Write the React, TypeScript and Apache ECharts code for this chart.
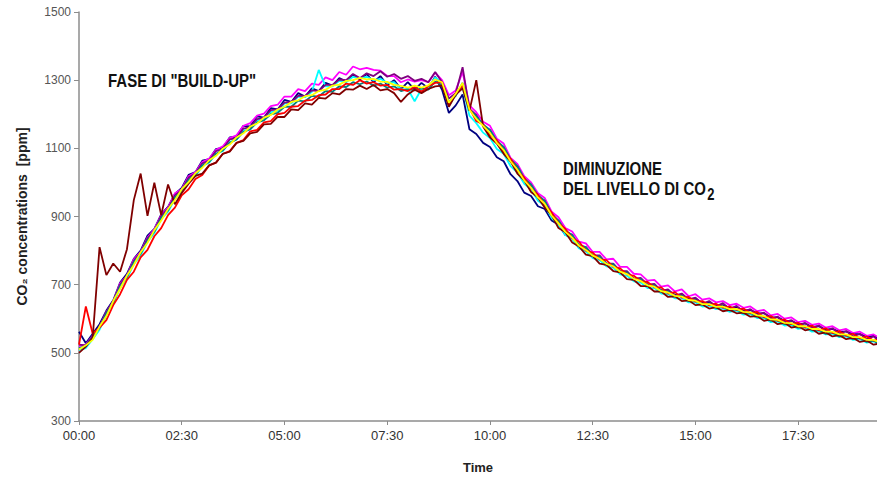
import React, { useEffect, useRef } from "react";
import * as echarts from "echarts";

// Sampling step of all series (minutes from 00:00)
const STEP_MIN = 10;
const X_MAX_MIN = 1165;
const X_TICK_MIN = 150;
const Y_MIN = 300;
const Y_MAX = 1500;
const Y_STEP = 200;

const X_AXIS_NAME = "Time";
const Y_AXIS_NAME = "CO\u2082 concentrations  [ppm]";
const NOTE_BUILDUP = 'FASE DI "BUILD-UP"';
const NOTE_DECAY_1 = "DIMINUZIONE";
const NOTE_DECAY_2 = "DEL LIVELLO DI CO";

// CO2 readings (ppm) every 10 minutes, one array per sensor
const navy = [
  562, 528, 556, 584, 624, 654, 706, 732, 776, 800,
  844, 864, 906, 928, 966, 984, 1022, 1030, 1064, 1068,
  1098, 1102, 1132, 1134, 1166, 1164, 1194, 1190, 1218, 1214,
  1242, 1236, 1262, 1252, 1276, 1268, 1292, 1284, 1306, 1296,
  1316, 1302, 1318, 1294, 1312, 1286, 1300, 1274, 1294, 1272,
  1292, 1276, 1310, 1272, 1204, 1226, 1258, 1156, 1142, 1116,
  1104, 1074, 1062, 1024, 1004, 970, 960, 930, 922, 888,
  876, 846, 838, 808, 804, 784, 776, 760, 756, 738,
  736, 716, 716, 700, 698, 684, 682, 670, 670, 658,
  659, 646, 648, 638, 640, 632, 634, 624, 626, 616,
  616, 604, 604, 594, 594, 584, 586, 576, 578, 568,
  570, 562, 562, 556, 554, 548, 550, 540,
];
const magenta = [
  520, 524, 550, 576, 620, 650, 704, 726, 774, 796,
  838, 862, 904, 926, 968, 980, 1018, 1030, 1060, 1070,
  1096, 1106, 1130, 1138, 1166, 1174, 1196, 1202, 1224, 1228,
  1252, 1252, 1274, 1268, 1290, 1286, 1308, 1300, 1324, 1316,
  1340, 1332, 1336, 1330, 1328, 1312, 1312, 1294, 1302, 1296,
  1300, 1294, 1322, 1300, 1256, 1270, 1324, 1226, 1206, 1178,
  1166, 1128, 1114, 1072, 1054, 1018, 1000, 968, 954, 914,
  898, 866, 856, 826, 821, 796, 796, 774, 776, 752,
  752, 732, 730, 712, 714, 694, 698, 680, 686, 666,
  672, 656, 660, 648, 652, 640, 644, 632, 636, 622,
  626, 610, 614, 600, 604, 590, 594, 582, 586, 574,
  578, 566, 570, 558, 562, 550, 554, 542,
];
const cyan = [
  508, 514, 540, 568, 610, 644, 690, 718, 760, 786,
  826, 851, 892, 914, 952, 972, 1006, 1018, 1048, 1058,
  1084, 1092, 1118, 1126, 1152, 1156, 1182, 1186, 1206, 1210,
  1232, 1232, 1252, 1250, 1266, 1330, 1282, 1282, 1298, 1294,
  1310, 1306, 1310, 1300, 1304, 1292, 1294, 1274, 1274, 1238,
  1274, 1278, 1308, 1292, 1224, 1259, 1280, 1196, 1174, 1146,
  1130, 1098, 1084, 1048, 1029, 996, 979, 946, 932, 896,
  876, 846, 834, 806, 798, 778, 772, 754, 750, 730,
  726, 710, 706, 690, 690, 674, 672, 660, 660, 648,
  648, 636, 638, 628, 630, 620, 624, 612, 614, 602,
  602, 590, 592, 580, 582, 570, 574, 562, 564, 554,
  556, 546, 548, 538, 540, 530, 534, 524,
];
const purple = [
  524, 522, 550, 576, 620, 650, 700, 726, 770, 794,
  836, 858, 902, 922, 962, 978, 1014, 1026, 1056, 1064,
  1092, 1098, 1126, 1130, 1158, 1162, 1186, 1190, 1212, 1214,
  1234, 1236, 1254, 1254, 1270, 1268, 1286, 1286, 1302, 1300,
  1318, 1306, 1320, 1312, 1326, 1310, 1318, 1304, 1312, 1298,
  1304, 1294, 1324, 1294, 1246, 1262, 1338, 1216, 1198, 1166,
  1154, 1116, 1102, 1062, 1046, 1006, 992, 956, 946, 904,
  888, 856, 846, 814, 810, 786, 786, 762, 762, 740,
  740, 718, 720, 700, 702, 682, 686, 668, 674, 656,
  662, 644, 652, 636, 646, 628, 638, 620, 628, 612,
  618, 600, 606, 590, 596, 580, 588, 572, 580, 564,
  572, 556, 564, 548, 556, 540, 548, 532,
];
const teal = [
  514, 520, 546, 574, 616, 646, 696, 722, 766, 791,
  830, 856, 896, 918, 956, 974, 1008, 1022, 1050, 1060,
  1084, 1094, 1116, 1126, 1148, 1156, 1176, 1182, 1200, 1204,
  1222, 1222, 1240, 1238, 1254, 1252, 1268, 1266, 1282, 1280,
  1294, 1288, 1296, 1284, 1290, 1278, 1282, 1268, 1274, 1270,
  1276, 1272, 1296, 1286, 1236, 1254, 1292, 1214, 1194, 1170,
  1154, 1122, 1104, 1068, 1048, 1012, 994, 962, 946, 908,
  888, 858, 846, 816, 810, 786, 782, 762, 760, 738,
  736, 716, 716, 698, 698, 682, 680, 666, 668, 652,
  654, 642, 644, 632, 636, 624, 628, 616, 618, 606,
  606, 594, 596, 584, 586, 574, 578, 566, 568, 556,
  560, 548, 552, 540, 544, 532, 536, 524,
];
const red = [
  524, 636, 556, 574, 596, 640, 672, 714, 738, 780,
  802, 842, 866, 904, 926, 962, 980, 1010, 1022, 1050,
  1058, 1084, 1092, 1116, 1124, 1150, 1154, 1176, 1180, 1200,
  1204, 1222, 1224, 1240, 1242, 1256, 1258, 1274, 1274, 1290,
  1286, 1300, 1290, 1294, 1284, 1286, 1272, 1274, 1268, 1280,
  1266, 1282, 1292, 1294, 1226, 1262, 1284, 1218, 1180, 1170,
  1138, 1124, 1090, 1070, 1034, 1014, 982, 964, 934, 912,
  880, 864, 836, 826, 800, 794, 774, 772, 752, 748,
  730, 726, 710, 708, 692, 692, 674, 678, 662, 664,
  650, 652, 640, 644, 632, 636, 626, 630, 616, 620,
  604, 608, 594, 598, 584, 588, 574, 580, 566, 572,
  558, 564, 550, 556, 542, 548, 536, 540,
];
const maroon = [
  500, 518, 545, 810, 728, 762, 738, 804, 948, 1026,
  902, 999, 904, 994, 936, 969, 996, 1019, 1026, 1050,
  1058, 1084, 1090, 1116, 1122, 1144, 1148, 1170, 1172, 1192,
  1192, 1214, 1212, 1232, 1228, 1248, 1246, 1262, 1258, 1274,
  1272, 1284, 1274, 1286, 1270, 1274, 1262, 1236, 1258, 1272,
  1262, 1274, 1282, 1284, 1222, 1258, 1276, 1210, 1300, 1164,
  1132, 1114, 1084, 1062, 1026, 1006, 972, 956, 926, 904,
  866, 854, 824, 812, 788, 784, 762, 758, 740, 736,
  716, 714, 696, 696, 680, 680, 664, 666, 652, 654,
  640, 642, 630, 634, 622, 626, 616, 618, 606, 608,
  594, 598, 584, 588, 574, 578, 566, 570, 556, 560,
  548, 552, 540, 544, 532, 536, 524, 528,
];
const yellow = [
  510, 522, 538, 577, 608, 652, 688, 727, 758, 795,
  823, 860, 888, 922, 948, 980, 1001, 1027, 1043, 1065,
  1078, 1099, 1111, 1132, 1144, 1164, 1173, 1190, 1198, 1214,
  1222, 1236, 1241, 1253, 1256, 1268, 1272, 1284, 1287, 1298,
  1300, 1307, 1302, 1304, 1296, 1295, 1286, 1283, 1278, 1284,
  1278, 1285, 1302, 1294, 1234, 1260, 1292, 1213, 1187, 1166,
  1145, 1116, 1095, 1062, 1037, 1006, 984, 956, 937, 903,
  880, 855, 838, 814, 802, 785, 776, 761, 754, 738,
  731, 717, 711, 698, 694, 681, 677, 667, 665, 655,
  653, 643, 643, 635, 636, 628, 629, 620, 619, 610,
  608, 598, 597, 588, 587, 578, 578, 570, 570, 562,
  562, 554, 554, 546, 546, 538, 538, 530,
];

const SERIES_LIST = [
  { name: "Sensor 1", color: "#000080", values: navy },
  { name: "Sensor 2", color: "#FF00FF", values: magenta },
  { name: "Sensor 3", color: "#00FFFF", values: cyan },
  { name: "Sensor 4", color: "#800080", values: purple },
  { name: "Sensor 5", color: "#008080", values: teal },
  { name: "Sensor 6", color: "#FF0000", values: red },
  { name: "Sensor 7", color: "#800000", values: maroon },
  { name: "Sensor 8", color: "#FFFF00", values: yellow },
];

function fmtTime(v: number): string {
  const h = Math.floor(v / 60);
  const m = Math.round(v % 60);
  return String(h).padStart(2, "0") + ":" + String(m).padStart(2, "0");
}

export default function App() {
  const ref = useRef<HTMLDivElement>(null);
  useEffect(() => {
    if (!ref.current) return;
    const chart = echarts.init(ref.current, undefined, { renderer: "svg" });
    const font = "Liberation Sans, Arial, sans-serif";
    chart.setOption({
      animation: false,
      backgroundColor: "#ffffff",
      grid: { left: 79, right: 0, top: 12, bottom: 53, containLabel: false },
      xAxis: {
        type: "value",
        min: 0,
        max: X_MAX_MIN,
        interval: X_TICK_MIN,
        name: X_AXIS_NAME,
        nameLocation: "middle",
        nameGap: 40,
        nameTextStyle: { fontFamily: font, fontWeight: "bold", fontSize: 13, color: "#222" },
        axisLine: { lineStyle: { color: "#8c8c8c", width: 1.5 } },
        axisTick: { show: true, length: 4, lineStyle: { color: "#8c8c8c" } },
        axisLabel: {
          formatter: (v: number) => fmtTime(v),
          fontFamily: font,
          fontSize: 13,
          color: "#333",
          margin: 8,
          showMaxLabel: false,
        },
        splitLine: { show: false },
      },
      yAxis: {
        type: "value",
        min: Y_MIN,
        max: Y_MAX,
        interval: Y_STEP,
        name: Y_AXIS_NAME,
        nameLocation: "middle",
        nameGap: 50,
        nameRotate: 90,
        nameTextStyle: { fontFamily: font, fontWeight: "bold", fontSize: 14, color: "#222" },
        axisLine: { show: true, lineStyle: { color: "#8c8c8c", width: 1.5 } },
        axisTick: { show: true, length: 5, lineStyle: { color: "#8c8c8c" } },
        axisLabel: {
          formatter: (v: number) => String(v),
          fontFamily: font,
          fontSize: 12,
          color: "#555",
          margin: 8,
        },
        splitLine: { show: false },
      },
      series: SERIES_LIST.map((s) => ({
        name: s.name,
        type: "line",
        data: s.values.map((v, i) => [i * STEP_MIN, v]),
        showSymbol: false,
        symbol: "none",
        clip: true,
        lineStyle: { color: s.color, width: 1.8 },
        itemStyle: { color: s.color },
      })),
      graphic: [
        {
          type: "text",
          x: 108,
          y: 72,
          scaleY: 1.2,
          style: { text: NOTE_BUILDUP, font: "bold 15px " + font, fill: "#111", verticalAlign: "top" },
        },
        {
          type: "text",
          x: 563,
          y: 160,
          scaleY: 1.2,
          style: { text: NOTE_DECAY_1, font: "bold 15px " + font, fill: "#111", verticalAlign: "top" },
        },
        {
          type: "text",
          x: 563,
          y: 176,
          scaleY: 1.2,
          style: {
            text: "{a|" + NOTE_DECAY_2 + "}{s|2}",
            fill: "#111",
            verticalAlign: "top",
            rich: {
              a: { fontFamily: font, fontWeight: "bold", fontSize: 15, fill: "#111" },
              s: { fontFamily: font, fontWeight: "bold", fontSize: 13, fill: "#111", padding: [9, 0, 0, 1] },
            },
          },
        },
      ],
    });
    return () => chart.dispose();
  }, []);
  return (
    <div
      ref={ref}
      style={{ position: "fixed", left: 0, top: 0, width: 877, height: 479, background: "#fff" }}
    />
  );
}
